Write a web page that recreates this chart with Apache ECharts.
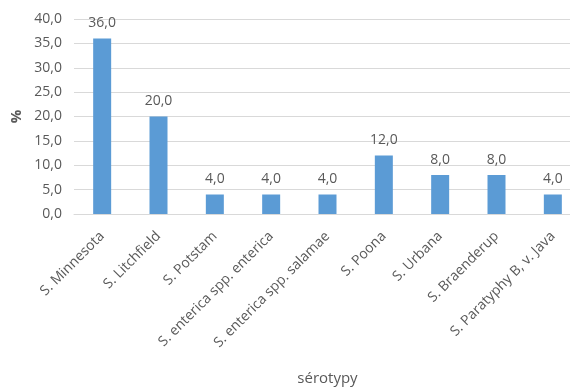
<!DOCTYPE html>
<html>
<head>
<meta charset="utf-8">
<script src="https://cdn.jsdelivr.net/npm/echarts@6/dist/echarts.min.js"></script>
<style>
  html, body { margin: 0; padding: 0; background: #fff; }
  #chart { width: 570px; height: 389px; }
</style>
</head>
<body>
<div id="chart"></div>
<script>
// Serotype categories and their share (%)
const serotypes = [
  'S. Minnesota',
  'S. Litchfield',
  'S. Potstam',
  'S. enterica spp. enterica',
  'S. enterica spp. salamae',
  'S. Poona',
  'S. Urbana',
  'S. Braenderup',
  'S. Paratyphy B, v. Java'
];
const shares = [36.0, 20.0, 4.0, 4.0, 4.0, 12.0, 8.0, 8.0, 4.0];

const fmt = v => Number(v).toFixed(1).replace('.', ',');
const textColor = '#595959';
const fontFamily = 'Open Sans, Noto Sans, sans-serif';

const chart = echarts.init(document.getElementById('chart'), null, { renderer: 'canvas' });
chart.setOption({
  animation: false,
  grid: {
    left: 74, top: 19, width: 507, height: 195,
    containLabel: false,
    outerBoundsMode: 'none'
  },
  xAxis: {
    type: 'category',
    data: serotypes,
    name: 'sérotypy',
    nameLocation: 'middle',
    nameGap: 157,
    nameMoveOverlap: false,
    nameTextStyle: { color: textColor, fontSize: 15, fontFamily },
    axisLine: { lineStyle: { color: '#d9d9d9', width: 1 } },
    axisTick: { show: false },
    axisLabel: {
      interval: 0,
      rotate: 45,
      margin: 20,
      color: textColor,
      fontSize: 14,
      fontFamily
    }
  },
  yAxis: {
    type: 'value',
    min: 0,
    max: 40,
    interval: 5,
    name: '%',
    nameLocation: 'middle',
    nameGap: 50,
    nameMoveOverlap: false,
    nameTextStyle: { color: textColor, fontSize: 15, fontWeight: 'bold', fontFamily },
    axisLine: { show: false },
    axisTick: { show: false },
    axisLabel: {
      color: textColor,
      fontSize: 14,
      fontFamily,
      margin: 12,
      formatter: v => fmt(v)
    },
    splitLine: { lineStyle: { color: '#d9d9d9', width: 1 } }
  },
  series: [{
    type: 'bar',
    data: shares,
    barWidth: 18,
    itemStyle: { color: '#5b9bd5' },
    label: {
      show: true,
      position: 'top',
      distance: 8,
      color: textColor,
      fontSize: 14,
      fontFamily,
      formatter: p => fmt(p.value)
    }
  }]
});
</script>
</body>
</html>
